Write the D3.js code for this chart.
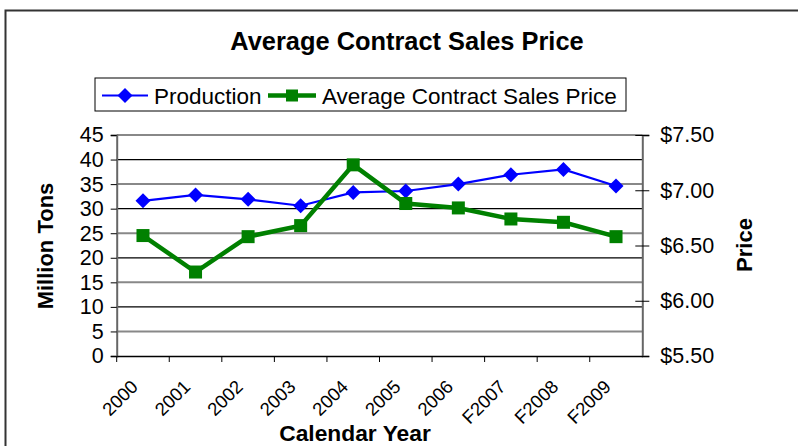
<!DOCTYPE html>
<html>
<head>
<meta charset="utf-8">
<script src="https://cdn.jsdelivr.net/npm/d3@7"></script>
<style>
  body { margin: 0; background: #fff; }
  svg { display: block; font-family: Arial, "Liberation Sans", sans-serif; }
</style>
</head>
<body>
<svg></svg>
<script>
const years = ['2000', '2001', '2002', '2003', '2004', '2005', '2006', 'F2007', 'F2008', 'F2009'];
const production = [31.6, 32.8, 31.9, 30.6, 33.3, 33.6, 35.0, 36.9, 38.0, 34.6];
const price = [6.59, 6.26, 6.58, 6.68, 7.23, 6.88, 6.84, 6.74, 6.71, 6.58];
const leftTicks = [0, 5, 10, 15, 20, 25, 30, 35, 40, 45];
const rightTicks = [5.5, 6.0, 6.5, 7.0, 7.5];

const [svgWidth, svgHeight] = [798, 446];
const svg = d3.select('svg')
  .attr('width', svgWidth)
  .attr('height', svgHeight);

// chart border (only top/left visible in the crop)
svg.append('rect')
  .attr('x', 5.5).attr('y', 10.5)
  .attr('width', 900).attr('height', 600)
  .attr('fill', 'none')
  .attr('stroke', '#333')
  .attr('stroke-width', 2);

const plot = { left: 116.7, right: 642.3, top: 135, bottom: 356 };

const x = d3.scaleBand()
  .domain(years)
  .range([plot.left, plot.right]);
const yL = d3.scaleLinear()
  .domain([0, 45])
  .range([plot.bottom, plot.top]);
const yR = d3.scaleLinear()
  .domain([5.5, 7.5])
  .range([plot.bottom, plot.top]);

// gridlines
svg.append('g')
  .selectAll('line')
  .data(leftTicks.filter(d => d > 0))
  .join('line')
  .attr('x1', plot.left).attr('x2', plot.right)
  .attr('y1', d => yL(d)).attr('y2', d => yL(d))
  .attr('stroke', d => (d % 10 === 0) ? '#000' : '#888')
  .attr('stroke-width', d => (d % 10 === 0) ? 1.3 : 2);

// left axis
const leftAxis = svg.append('g')
  .attr('transform', `translate(${plot.left},0)`)
  .call(d3.axisLeft(yL).tickValues(leftTicks).tickSize(6).tickPadding(7));
leftAxis.select('.domain').attr('stroke', '#666').attr('stroke-width', 2);
leftAxis.selectAll('.tick line').attr('stroke', '#000');
leftAxis.selectAll('text').attr('font-size', 21.5).attr('fill', '#000');

// right axis
const rightAxis = svg.append('g')
  .attr('transform', `translate(${plot.right},0)`)
  .call(d3.axisRight(yR).tickValues(rightTicks).tickSize(7).tickPadding(11)
    .tickFormat(d3.format('$.2f')));
rightAxis.select('.domain').attr('stroke', '#666').attr('stroke-width', 2);
rightAxis.selectAll('.tick line').attr('stroke', '#000').attr('x1', -7);
rightAxis.selectAll('text').attr('font-size', 21.5).attr('fill', '#000');

// bottom axis
const bottomAxis = svg.append('g')
  .attr('transform', `translate(0,${plot.bottom})`)
  .call(d3.axisBottom(x).tickSize(0).tickFormat(''));
bottomAxis.select('.domain').attr('stroke', '#000').attr('stroke-width', 1.5);
svg.append('g')
  .selectAll('line')
  .data(years)
  .join('line')
  .attr('x1', d => x(d)).attr('x2', d => x(d))
  .attr('y1', plot.bottom).attr('y2', plot.bottom + 6)
  .attr('stroke', '#000');
svg.append('g')
  .selectAll('text')
  .data(years)
  .join('text')
  .attr('transform', d => `translate(${x(d) + x.bandwidth() / 2 - 4},${plot.bottom + 32}) rotate(-45)`)
  .attr('text-anchor', 'end')
  .attr('font-size', 18.5)
  .text(d => d);

// axis titles
svg.append('text')
  .attr('x', 355).attr('y', 441)
  .attr('text-anchor', 'middle')
  .attr('font-size', 22.8).attr('font-weight', 'bold')
  .text('Calendar Year');
svg.append('text')
  .attr('transform', `translate(53,246) rotate(-90)`)
  .attr('text-anchor', 'middle')
  .attr('font-size', 22).attr('font-weight', 'bold')
  .text('Million Tons');
svg.append('text')
  .attr('transform', `translate(752,245) rotate(-90)`)
  .attr('text-anchor', 'middle')
  .attr('font-size', 22).attr('font-weight', 'bold')
  .text('Price');

// title
svg.append('text')
  .attr('x', 407).attr('y', 50)
  .attr('text-anchor', 'middle')
  .attr('font-size', 25.4).attr('font-weight', 'bold')
  .text('Average Contract Sales Price');

const cx = (d, i) => x(years[i]) + x.bandwidth() / 2;

// production line
svg.append('path')
  .datum(production)
  .attr('fill', 'none')
  .attr('stroke', '#0000ff')
  .attr('stroke-width', 2.2)
  .attr('d', d3.line().x(cx).y(d => yL(d)));
svg.append('g')
  .selectAll('path')
  .data(production)
  .join('path')
  .attr('transform', (d, i) => `translate(${cx(d, i)},${yL(d)})`)
  .attr('d', 'M0,-7.5L7.5,0L0,7.5L-7.5,0Z')
  .attr('fill', '#0000ff');

// price line
svg.append('path')
  .datum(price)
  .attr('fill', 'none')
  .attr('stroke', '#008000')
  .attr('stroke-width', 4.5)
  .attr('d', d3.line().x(cx).y(d => yR(d)));
svg.append('g')
  .selectAll('rect')
  .data(price)
  .join('rect')
  .attr('x', (d, i) => cx(d, i) - 6.5)
  .attr('y', d => yR(d) - 6.5)
  .attr('width', 13).attr('height', 13)
  .attr('fill', '#008000');

// legend
const legend = svg.append('g');
legend.append('rect')
  .attr('x', 95).attr('y', 78)
  .attr('width', 531).attr('height', 33)
  .attr('fill', '#fff')
  .attr('stroke', '#000')
  .attr('stroke-width', 1);
const ly = 95.5;
legend.append('line')
  .attr('x1', 102).attr('x2', 148).attr('y1', ly).attr('y2', ly)
  .attr('stroke', '#0000ff').attr('stroke-width', 2.2);
legend.append('path')
  .attr('transform', `translate(125,${ly})`)
  .attr('d', 'M0,-7.5L7.5,0L0,7.5L-7.5,0Z')
  .attr('fill', '#0000ff');
legend.append('text')
  .attr('x', 154).attr('y', ly).attr('dy', '0.36em')
  .attr('font-size', 22.5)
  .text('Production');
legend.append('line')
  .attr('x1', 268).attr('x2', 316).attr('y1', ly).attr('y2', ly)
  .attr('stroke', '#008000').attr('stroke-width', 4.5);
legend.append('rect')
  .attr('x', 292 - 6).attr('y', ly - 6)
  .attr('width', 12).attr('height', 12)
  .attr('fill', '#008000');
legend.append('text')
  .attr('x', 322).attr('y', ly).attr('dy', '0.36em')
  .attr('font-size', 22.5)
  .text('Average Contract Sales Price');
</script>
</body>
</html>
